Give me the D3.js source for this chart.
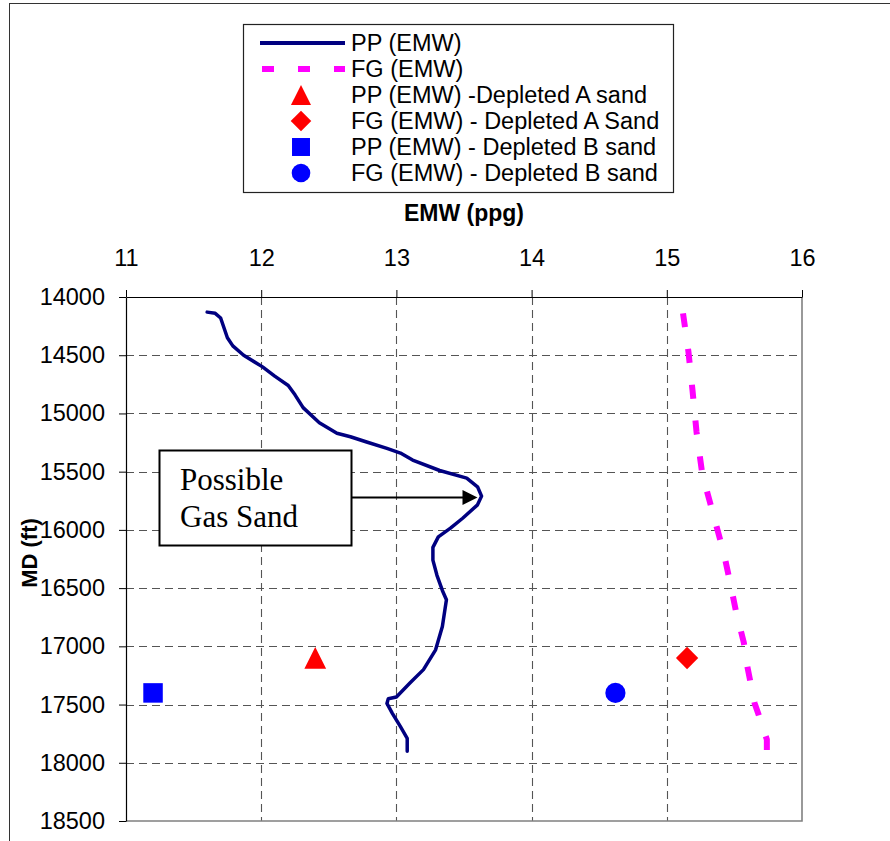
<!DOCTYPE html>
<html>
<head>
<meta charset="utf-8">
<script src="https://cdn.jsdelivr.net/npm/d3@7"></script>
<style>
  html, body { margin: 0; padding: 0; background: #fff; }
  svg { display: block; }
</style>
</head>
<body>
<svg id="chart" width="890" height="841"></svg>
<script>
// Pore pressure profile (equivalent mud weight vs measured depth)
const ppDepth = [14130, 14140, 14180, 14350, 14420, 14500, 14600, 14680, 14760, 14840,
                 14950, 15080, 15170, 15200, 15245, 15300, 15340, 15400, 15490, 15555,
                 15630, 15710, 15785, 15900, 15985, 16060, 16150, 16260, 16390, 16520,
                 16600, 16830, 17030, 17200, 17315, 17435, 17450, 17490, 17575, 17690,
                 17790, 17900];
const ppEmw = [11.60, 11.66, 11.70, 11.75, 11.79, 11.87, 12.01, 12.10, 12.20, 12.25,
               12.31, 12.43, 12.56, 12.66, 12.78, 12.93, 13.03, 13.12, 13.32, 13.52,
               13.60, 13.63, 13.60, 13.49, 13.40, 13.31, 13.27, 13.27, 13.30, 13.34,
               13.37, 13.34, 13.29, 13.20, 13.10, 13.00, 12.94, 12.93, 12.97, 13.03,
               13.08, 13.08];

// Fracture gradient profile
const fgDepth = [14140, 14470, 14800, 15160, 15500, 15680, 15980, 16190, 16460, 16690,
                 16970, 17140, 17490, 17590, 17800, 17900];
const fgEmw = [15.12, 15.16, 15.19, 15.22, 15.26, 15.30, 15.37, 15.42, 15.47, 15.51,
               15.57, 15.59, 15.65, 15.68, 15.74, 15.74];

// Depleted sand points
const depletedNames = ["PP (EMW) -Depleted A sand", "FG (EMW) - Depleted A Sand",
                       "PP (EMW) - Depleted B sand", "FG (EMW) - Depleted B sand"];
const depletedEmw = [12.4, 15.15, 11.2, 14.62];
const depletedDepth = [17100, 17100, 17400, 17400];

const seriesNames = ["PP (EMW)", "FG (EMW)"];
const xTicks = [11, 12, 13, 14, 15, 16];
const yTicks = [14000, 14500, 15000, 15500, 16000, 16500, 17000, 17500, 18000, 18500];
const xTitle = "EMW (ppg)";
const yTitle = "MD (ft)";
const noteLines = ["Possible", "Gas Sand"];

const svg = d3.select("#chart");
const W = 890, H = 841;
const plot = { left: 126, right: 802, top: 297, bottom: 821 };

const x = d3.scaleLinear().domain([11, 16]).range([plot.left, plot.right]);
const y = d3.scaleLinear().domain([14000, 18500]).range([plot.top, plot.bottom]);

const sans = "'Liberation Sans', Arial, sans-serif";
const serif = "'Liberation Serif', 'Times New Roman', serif";

svg.append("rect").attr("width", W).attr("height", H).attr("fill", "#fff");

// chart frame (extends beyond the visible page on right/bottom)
svg.append("rect")
  .attr("x", 9.5).attr("y", 3.5)
  .attr("width", W + 20).attr("height", H + 20)
  .attr("fill", "none").attr("stroke", "#333").attr("stroke-width", 1);

// gridlines
const grid = svg.append("g").attr("stroke", "#555").attr("stroke-width", 1.1)
  .attr("stroke-dasharray", "8,5");
grid.selectAll("line.v").data(xTicks.slice(1, -1)).join("line")
  .attr("class", "v")
  .attr("x1", d => Math.round(x(d)) + 0.5).attr("x2", d => Math.round(x(d)) + 0.5)
  .attr("y1", plot.top).attr("y2", plot.bottom);
grid.selectAll("line.h").data(yTicks.slice(1, -1)).join("line")
  .attr("class", "h")
  .attr("x1", plot.left).attr("x2", plot.right)
  .attr("y1", d => Math.round(y(d)) + 0.5).attr("y2", d => Math.round(y(d)) + 0.5);

// plot border on right and bottom
svg.append("path")
  .attr("d", `M${plot.right},${plot.top}V${plot.bottom}H${plot.left}`)
  .attr("fill", "none").attr("stroke", "#808080").attr("stroke-width", 1.6);

// top axis
const xAxis = svg.append("g")
  .attr("transform", `translate(0,${plot.top})`)
  .call(d3.axisTop(x).tickValues(xTicks).tickFormat(d3.format("d"))
        .tickSize(7).tickSizeOuter(0).tickPadding(24));
xAxis.select(".domain").attr("stroke", "#000").attr("stroke-width", 1.2);
xAxis.selectAll(".tick line").attr("stroke", "#000");
xAxis.selectAll("text").attr("font-family", sans).attr("font-size", 23.5).attr("fill", "#000");

// left axis
const yAxis = svg.append("g")
  .attr("transform", `translate(${plot.left},0)`)
  .call(d3.axisLeft(y).tickValues(yTicks).tickFormat(d3.format("d"))
        .tickSize(7).tickSizeOuter(0).tickPadding(14));
yAxis.select(".domain").attr("stroke", "#000").attr("stroke-width", 1.2);
yAxis.selectAll(".tick line").attr("stroke", "#000");
yAxis.selectAll("text").attr("font-family", sans).attr("font-size", 23.5).attr("fill", "#000");

// axis titles
svg.append("text")
  .attr("x", (plot.left + plot.right) / 2).attr("y", 221)
  .attr("text-anchor", "middle").attr("font-family", sans)
  .attr("font-weight", "bold").attr("font-size", 23).text(xTitle);
svg.append("text")
  .attr("transform", `translate(37,553) rotate(-90)`)
  .attr("text-anchor", "middle").attr("font-family", sans)
  .attr("font-weight", "bold").attr("font-size", 22).text(yTitle);

// profiles
const line = d3.line().x(d => x(d[1])).y(d => y(d[0])).curve(d3.curveLinear);
const ppData = ppDepth.map((d, i) => [d, ppEmw[i]]);
const fgData = fgDepth.map((d, i) => [d, fgEmw[i]]);

svg.append("path").datum(fgData)
  .attr("d", line).attr("fill", "none")
  .attr("stroke", "#ff00ff").attr("stroke-width", 6)
  .attr("stroke-dasharray", "14,22");

svg.append("path").datum(ppData)
  .attr("d", line).attr("fill", "none")
  .attr("stroke", "#000080").attr("stroke-width", 3.5)
  .attr("stroke-linejoin", "round").attr("stroke-linecap", "round");

// marker shapes
const markerColors = ["#ff0000", "#ff0000", "#0000ff", "#0000ff"];
const markerKinds = ["triangle", "diamond", "square", "circle"];
const markerSizes = [260, 240, 380, 320];

function drawMarker(g, i, cx, cy, scale) {
  const s = markerSizes[i] * scale;
  const kind = markerKinds[i];
  if (kind === "triangle") {
    const w = Math.sqrt(s) * 1.35, h = w;
    g.append("path")
      .attr("d", `M${cx},${cy - h / 2}L${cx + w / 2},${cy + h / 2}L${cx - w / 2},${cy + h / 2}Z`)
      .attr("fill", markerColors[i]);
  } else if (kind === "diamond") {
    const r = Math.sqrt(s) * 0.72;
    g.append("path")
      .attr("d", `M${cx},${cy - r}L${cx + r},${cy}L${cx},${cy + r}L${cx - r},${cy}Z`)
      .attr("fill", markerColors[i]);
  } else if (kind === "square") {
    const a = Math.sqrt(s);
    g.append("rect").attr("x", cx - a / 2).attr("y", cy - a / 2)
      .attr("width", a).attr("height", a).attr("fill", markerColors[i]);
  } else {
    const r = Math.sqrt(s / Math.PI);
    g.append("circle").attr("cx", cx).attr("cy", cy).attr("r", r).attr("fill", markerColors[i]);
  }
}

const markers = svg.append("g");
depletedEmw.forEach((v, i) => drawMarker(markers, i, x(v), y(depletedDepth[i]), 1));

// annotation box with arrow
const note = svg.append("g");
note.append("rect").attr("x", 159.5).attr("y", 450.5).attr("width", 192).attr("height", 95)
  .attr("fill", "#fff").attr("stroke", "#000").attr("stroke-width", 2);
note.selectAll("text").data(noteLines).join("text")
  .attr("x", 180).attr("y", (d, i) => 490 + i * 37)
  .attr("font-family", serif).attr("font-size", 31).text(d => d);
const tipX = x(13.60), tipY = 497.5;
note.append("line").attr("x1", 352).attr("x2", tipX - 14).attr("y1", tipY).attr("y2", tipY)
  .attr("stroke", "#000").attr("stroke-width", 2);
note.append("path")
  .attr("d", `M${tipX},${tipY}L${tipX - 15},${tipY - 7.5}L${tipX - 15},${tipY + 7.5}Z`)
  .attr("fill", "#000");

// legend
const legend = svg.append("g");
legend.append("rect").attr("x", 243.5).attr("y", 24.5).attr("width", 430).attr("height", 168)
  .attr("fill", "#fff").attr("stroke", "#222").attr("stroke-width", 1.2);
const legendNames = seriesNames.concat(depletedNames);
const rowY = i => 43 + i * 26;
legendNames.forEach((name, i) => {
  const cy = rowY(i);
  if (i === 0) {
    legend.append("line").attr("x1", 260).attr("x2", 345).attr("y1", cy).attr("y2", cy)
      .attr("stroke", "#000080").attr("stroke-width", 4);
  } else if (i === 1) {
    legend.append("line").attr("x1", 262).attr("x2", 345).attr("y1", cy).attr("y2", cy)
      .attr("stroke", "#ff00ff").attr("stroke-width", 6).attr("stroke-dasharray", "12,24");
  } else {
    drawMarker(legend, i - 2, 301, cy, 0.85);
  }
  legend.append("text").attr("x", 351).attr("y", cy).attr("dy", "0.36em")
    .attr("font-family", sans).attr("font-size", 23.5).text(name);
});
</script>
</body>
</html>
